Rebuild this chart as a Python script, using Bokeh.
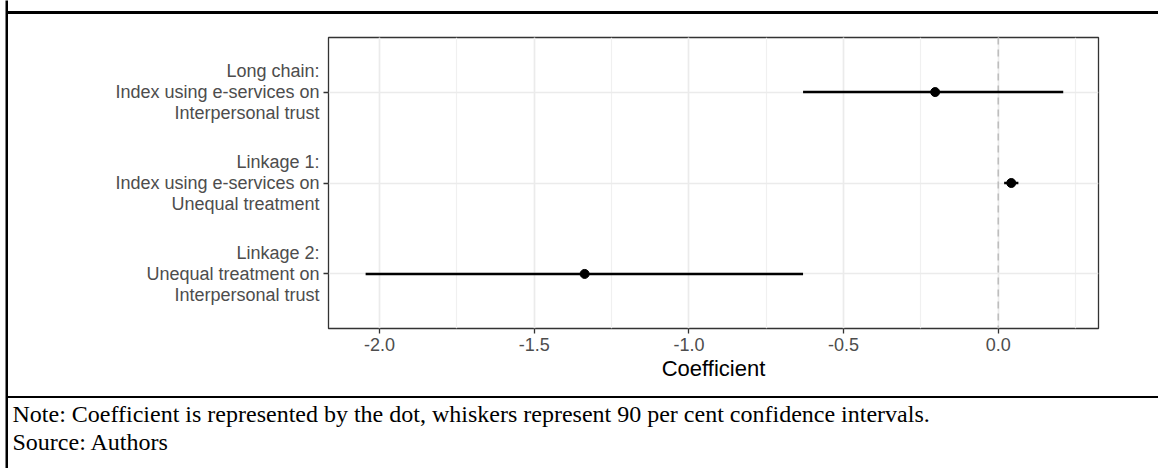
from bokeh.plotting import figure
from bokeh.layouts import row, column
from bokeh.models import (Range1d, FixedTicker, SingleIntervalTicker, PrintfTickFormatter,
                          Title, Span, Spacer)
from bokeh.embed import file_html
from bokeh.resources import INLINE

# ---- data ----
categories = ["Long chain:\nIndex using e-services on\nInterpersonal trust",
              "Linkage 1:\nIndex using e-services on\nUnequal treatment",
              "Linkage 2:\nUnequal treatment on\nInterpersonal trust"]
positions = [3, 2, 1]
coef = [-0.204, 0.042, -1.337]
ci_low = [-0.631, 0.019, -2.045]
ci_high = [0.210, 0.065, -0.631]
ref_value = 0.0
note_text = "Note: Coefficient is represented by the dot, whiskers represent 90 per cent confidence intervals."
source_text = "Source: Authors"
x_title = "Coefficient"

W = 1150  # content width (right of the left rule)
FL = 320  # frame left inside each content figure

# ---- main chart ----
p = figure(width=W, height=382, output_backend="svg", toolbar_location=None,
           x_range=Range1d(-2.165, 0.324), y_range=Range1d(0.4, 3.6),
           min_border_left=FL, min_border_right=60, min_border_top=23, min_border_bottom=68)
p.background_fill_color = "white"
p.border_fill_color = "white"
p.outline_line_color = "#333333"
p.outline_line_width = 1.3

p.xaxis.ticker = SingleIntervalTicker(interval=0.5, num_minor_ticks=2)
p.xgrid.grid_line_color = "#EBEBEB"
p.xgrid.grid_line_width = 1.6
p.xgrid.minor_grid_line_color = "#F0F0F0"
p.xgrid.minor_grid_line_width = 1.2
p.yaxis.ticker = FixedTicker(ticks=positions)
p.ygrid.grid_line_color = "#EBEBEB"
p.ygrid.grid_line_width = 1.6

for ax in (p.xaxis, p.yaxis):
    ax.axis_line_color = None
    ax.major_tick_line_color = "#333333"
    ax.major_tick_line_width = 1.3
    ax.major_tick_out = 5
    ax.major_tick_in = 0
    ax.minor_tick_line_color = None
    ax.major_label_text_font = "Liberation Sans"
    ax.major_label_text_font_size = "18px"
    ax.major_label_text_color = "#4D4D4D"
    ax.major_label_standoff = 4

p.xaxis.formatter = PrintfTickFormatter(format="%.1f")
p.xaxis.axis_label = x_title
p.xaxis.axis_label_text_font = "Liberation Sans"
p.xaxis.axis_label_text_font_size = "22px"
p.xaxis.axis_label_text_font_style = "normal"
p.xaxis.axis_label_text_color = "black"
p.xaxis.axis_label_standoff = 2

p.yaxis.major_label_overrides = {pos: lab for pos, lab in zip(positions, categories)}
p.yaxis.major_label_text_line_height = 1.07

p.add_layout(Span(location=ref_value, dimension="height", line_color="#BEBEBE",
                  line_width=1.6, line_dash="7 5", level="underlay"))

p.segment(x0=ci_low, y0=positions, x1=ci_high, y1=positions, line_color="black", line_width=2.6)
p.scatter(x=coef, y=positions, size=9, fill_color="black", line_color="black")


# ---- rules of the surrounding box ----
def hrule(w, h):
    return Spacer(width=w, height=h, styles={"background-color": "black"})


left_rule = figure(width=3, height=468, output_backend="svg", toolbar_location=None,
                   x_axis_type=None, y_axis_type=None, min_border=0,
                   background_fill_color="black", border_fill_color="black")
left_rule.outline_line_color = None

# ---- note panel ----
n = figure(width=W, height=70, output_backend="svg", toolbar_location=None,
           x_axis_type=None, y_axis_type=None, min_border_left=FL, min_border_right=60,
           min_border_top=0, min_border_bottom=42,
           x_range=Range1d(0, 1), y_range=Range1d(0, 1))
n.outline_line_color = None
n.background_fill_color = None
n.border_fill_color = "white"


def note_title(txt):
    return Title(text=txt, align="left", offset=4 - FL, standoff=0,
                 text_font="Liberation Serif", text_font_size="24px",
                 text_font_style="normal", text_color="black")


n.add_layout(note_title(note_text), "above")
n.add_layout(note_title(source_text), "below")

right = column(Spacer(width=W, height=11), hrule(W, 3), p, hrule(W, 2), n)
layout = row(Spacer(width=5, height=468), left_rule, right)

open("out.html", "w").write(file_html(layout, INLINE))
